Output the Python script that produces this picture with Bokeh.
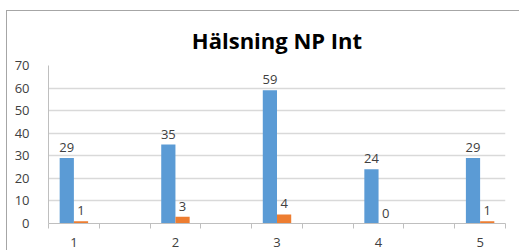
from bokeh.plotting import figure
from bokeh.models import ColumnDataSource, FixedTicker, Range1d, LabelSet
from bokeh.transform import dodge
from bokeh.core.properties import value
from bokeh.embed import file_html
from bokeh.resources import INLINE

# data
categories = ["1", "2", "3", "4", "5"]
series_a = [29, 35, 59, 24, 29]
series_b = [1, 3, 4, 0, 1]
y_ticks = [0, 10, 20, 30, 40, 50, 60, 70]
title_text = "Hälsning NP Int"

BLUE = "#5B9BD5"
ORANGE = "#ED7D31"
FONT = "Open Sans"

# category slots: labelled categories sit on every other slot (Excel layout)
n_slots = 2 * len(categories) - 1
xpos = [2 * i + 1 for i in range(len(categories))]

src = ColumnDataSource(dict(x=xpos, a=series_a, b=series_b,
                            a_txt=[str(v) for v in series_a],
                            b_txt=[str(v) for v in series_b]))

p = figure(width=513, height=240, output_backend="svg", toolbar_location=None,
           x_range=Range1d(0.5, n_slots + 0.5), y_range=Range1d(0, 70),
           min_border_left=41, min_border_right=15, min_border_top=54,
           min_border_bottom=28)
p.margin = (10, 0, 0, 6)
p.styles = {"border-left": "1px solid #A6A6A6", "border-top": "1px solid #A6A6A6"}
p.outline_line_color = None
p.background_fill_color = "white"
p.border_fill_color = "white"

p.title.text = title_text
p.title.align = "center"
p.title.text_font = FONT
p.title.text_font_style = "bold"
p.title.text_font_size = "22px"
p.title.text_color = "#000000"
p.title.standoff = 22
p.title.offset = -7

bw = 0.28
p.vbar(x=dodge("x", -bw / 2, range=p.x_range), top="a", width=bw, bottom=0,
       source=src, fill_color=BLUE, line_color=None)
p.vbar(x=dodge("x", bw / 2, range=p.x_range), top="b", width=bw, bottom=0,
       source=src, fill_color=ORANGE, line_color=None)

for col, txt, off in (("a", "a_txt", -bw / 2), ("b", "b_txt", bw / 2)):
    p.add_layout(LabelSet(x=dodge("x", off, range=p.x_range), y=col, text=txt,
                          source=src, text_align="center", text_baseline="bottom",
                          y_offset=6, text_font=value(FONT),
                          text_font_size="13px", text_color="#404040"))

# x axis
xa = p.xaxis[0]
xa.ticker = FixedTicker(ticks=xpos, minor_ticks=[i + 0.5 for i in range(n_slots + 1)])
xa.major_label_overrides = {x: c for x, c in zip(xpos, categories)}
xa.major_tick_line_color = None
xa.minor_tick_line_color = "#BFBFBF"
xa.minor_tick_out = 5
xa.minor_tick_in = 0
xa.axis_line_color = "#BFBFBF"
xa.major_label_standoff = 8
xa.major_label_text_font = FONT
xa.major_label_text_font_size = "13px"
xa.major_label_text_color = "#404040"

# y axis
ya = p.yaxis[0]
ya.ticker = FixedTicker(ticks=y_ticks)
ya.major_tick_line_color = None
ya.minor_tick_line_color = None
ya.axis_line_color = "#BFBFBF"
ya.major_label_standoff = 13
ya.major_label_text_font = FONT
ya.major_label_text_font_size = "13px"
ya.major_label_text_color = "#404040"

p.xgrid.grid_line_color = None
p.ygrid.grid_line_color = "#D9D9D9"
p.ygrid.grid_line_width = 1.3

open("out.html", "w").write(file_html(p, INLINE))
